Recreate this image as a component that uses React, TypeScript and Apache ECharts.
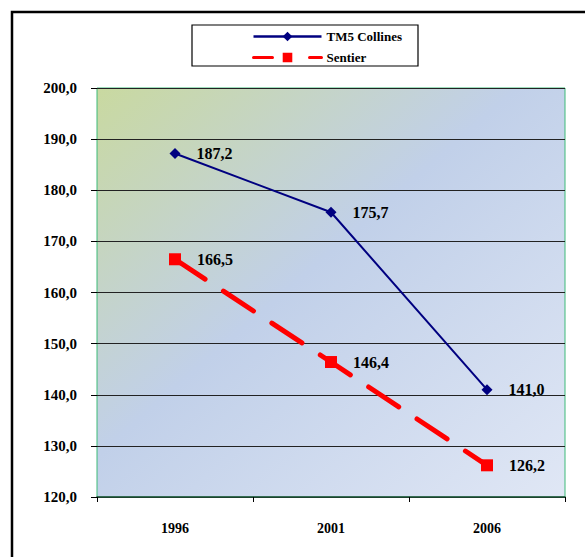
import React, { useEffect, useRef } from "react";
import * as echarts from "echarts";

const categories = ["1996", "2001", "2006"];
const tm5Values = [187.2, 175.7, 141.0];
const sentierValues = [166.5, 146.4, 126.2];
const seriesNames = ["TM5 Collines", "Sentier"];
const yMin = 120;
const yMax = 200;
const yStep = 10;

const fmt = (v: number) => v.toFixed(1).replace(".", ",");
const FONT = "'Liberation Serif', 'Times New Roman', serif";

export default function App() {
  const ref = useRef<HTMLDivElement>(null);
  useEffect(() => {
    if (!ref.current) return;
    const chart = echarts.init(ref.current, undefined, { renderer: "svg" });
    chart.setOption({
      animation: false,
      backgroundColor: "#ffffff",
      textStyle: { fontFamily: FONT },
      grid: {
        left: 97,
        top: 88,
        width: 468,
        height: 409,
        show: true,
        borderColor: "#3dba78",
        borderWidth: 1,
        backgroundColor: {
          type: "linear",
          x: 0,
          y: 0,
          x2: 1,
          y2: 1,
          colorStops: [
            { offset: 0, color: "#c9d9a0" },
            { offset: 0.45, color: "#c1d0e9" },
            { offset: 1, color: "#e0e7f5" },
          ],
        },
      },
      legend: {
        left: 252,
        top: 30,
        orient: "vertical",
        padding: 0,
        itemWidth: 68,
        itemHeight: 12,
        itemGap: 8,
        textStyle: { fontFamily: FONT, fontWeight: "bold", fontSize: 13, color: "#000" },
        data: [
          { name: seriesNames[0], lineStyle: { width: 2.5, type: "solid" } },
          { name: seriesNames[1], lineStyle: { width: 3, type: [19, 37] } },
        ],
      },
      graphic: [
        {
          type: "rect",
          shape: { x: 12, y: 12, width: 620, height: 620 },
          style: { fill: "none", stroke: "#000", lineWidth: 2.5 },
          silent: true,
        },
        {
          type: "rect",
          shape: { x: 192, y: 25, width: 226, height: 41 },
          style: { fill: "#fff", stroke: "#000", lineWidth: 1.2 },
          silent: true,
          z: -1,
        },
      ],
      xAxis: {
        type: "category",
        data: categories,
        boundaryGap: true,
        axisLine: { show: true, lineStyle: { color: "#1b4d33", width: 1.5 } },
        axisTick: { show: true, alignWithLabel: false, length: 5, lineStyle: { color: "#000" } },
        axisLabel: { margin: 24, fontFamily: FONT, fontWeight: "bold", fontSize: 14, color: "#000" },
        splitLine: { show: false },
      },
      yAxis: {
        type: "value",
        min: yMin,
        max: yMax,
        interval: yStep,
        axisLine: { show: false },
        axisTick: { show: true, length: 6, lineStyle: { color: "#000" } },
        axisLabel: {
          margin: 20,
          fontFamily: FONT,
          fontWeight: "bold",
          fontSize: 15,
          color: "#000",
          formatter: (v: number) => fmt(v),
        },
        splitLine: { show: true, lineStyle: { color: "#222", width: 1 } },
      },
      series: [
        {
          name: seriesNames[0],
          type: "line",
          data: tm5Values,
          symbol: "diamond",
          symbolSize: 11,
          itemStyle: { color: "#000080" },
          lineStyle: { color: "#000080", width: 2 },
          label: {
            show: true,
            position: "right",
            distance: 16,
            fontFamily: FONT,
            fontWeight: "bold",
            fontSize: 16,
            color: "#000",
            formatter: (p: any) => fmt(p.value),
          },
        },
        {
          name: seriesNames[1],
          type: "line",
          data: sentierValues,
          symbol: "rect",
          symbolSize: 12,
          itemStyle: { color: "#ff0000" },
          lineStyle: { color: "#ff0000", width: 5, type: [36, 22], cap: "round" },
          label: {
            show: true,
            position: "right",
            distance: 16,
            fontFamily: FONT,
            fontWeight: "bold",
            fontSize: 16,
            color: "#000",
            formatter: (p: any) => fmt(p.value),
          },
        },
      ],
    });
    return () => chart.dispose();
  }, []);
  return (
    <div
      ref={ref}
      style={{ position: "fixed", left: 0, top: 0, width: 585, height: 557 }}
    />
  );
}
